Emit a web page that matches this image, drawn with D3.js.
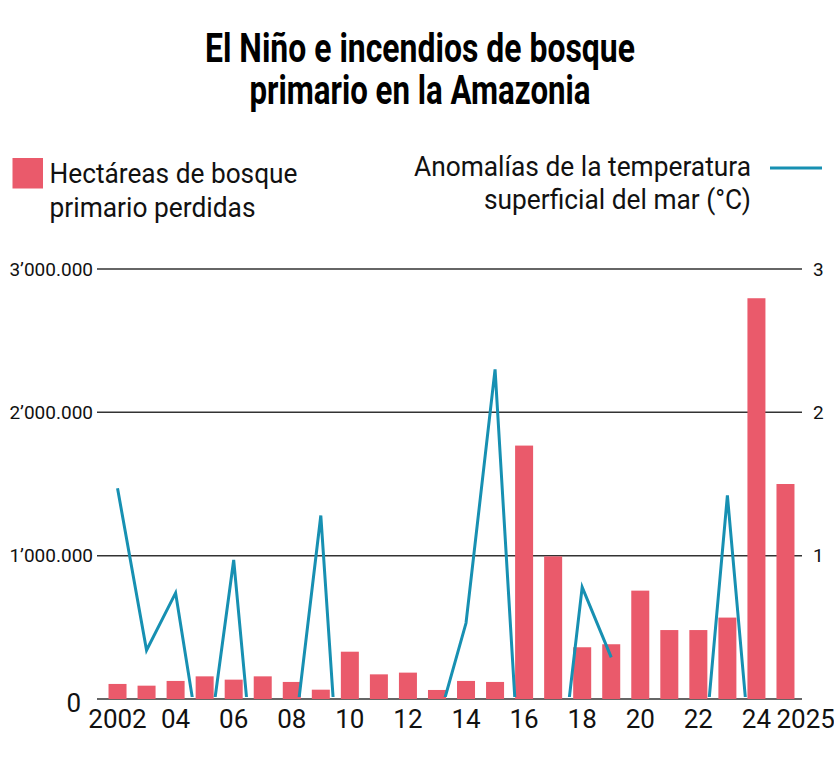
<!DOCTYPE html>
<html>
<head>
<meta charset="utf-8">
<script src="https://cdn.jsdelivr.net/npm/d3@7"></script>
<style>
  html, body { margin: 0; padding: 0; background: #fff; }
  svg { display: block; font-family: Roboto, "Noto Sans", sans-serif; }
</style>
</head>
<body>
<svg id="chart" width="834" height="760"></svg>
<script>
// ---- data ----
const years = [2002,2003,2004,2005,2006,2007,2008,2009,2010,2011,2012,2013,
               2014,2015,2016,2017,2018,2019,2020,2021,2022,2023,2024,2025];
const hectares = [105000, 93000, 126000, 158000, 135000, 158000, 119000, 65000,
                  330000, 172000, 184000, 63000, 126000, 119000, 1768000, 995000,
                  361000, 382000, 756000, 481000, 481000, 568000, 2796000, 1500000];
const sstAnomaly = [1.47, 0.34, 0.74, -0.53, 0.97, -1.2, -0.42, 1.28,
                    -1.72, -1.2, -0.6, -0.19, 0.53, 2.30, -1.07, -0.96,
                    0.78, 0.29, null, null, -0.84, 1.42, -0.86, null];
const leftTicks = [1000000, 2000000, 3000000];
const leftTickLabels = ["1’000.000", "2’000.000", "3’000.000"];
const rightTicks = [1, 2, 3];
const xTickYears = [2002,2004,2006,2008,2010,2012,2014,2016,2018,2020,2022,2024,2025];
const xTickLabels = ["2002","04","06","08","10","12","14","16","18","20","22","24","2025"];
const titleLines = ["El Niño e incendios de bosque", "primario en la Amazonia"];
const legendBars = ["Hectáreas de bosque", "primario perdidas"];
const legendLine = ["Anomalías de la temperatura", "superficial del mar (°C)"];

// ---- layout ----
const barColor = "#EA5A6B";
const lineColor = "#1790B2";
const gridColor = "#333333";
const plotLeft = 97, plotRight = 802, plotTop = 269, plotBottom = 699;

const svg = d3.select("#chart");

const x = d3.scaleBand().domain(years).range([103, 800])
  .paddingInner(0.38).paddingOuter(0.19);
const yL = d3.scaleLinear().domain([0, 3000000]).range([plotBottom, plotTop]);
const yR = d3.scaleLinear().domain([0, 3]).range([plotBottom, plotTop]);

// title
const title = svg.append("g");
titleLines.forEach((t, i) => {
  title.append("text")
    .attr("x", 420).attr("y", 62 + i * 42)
    .attr("text-anchor", "middle")
    .attr("font-size", 40).attr("font-weight", 700)
    .attr("fill", "#000")
    .attr("textLength", i === 0 ? 430 : 341)
    .attr("lengthAdjust", "spacingAndGlyphs")
    .text(t);
});

// legend
svg.append("rect").attr("x", 12.5).attr("y", 158).attr("width", 30.5).attr("height", 30.5)
  .attr("fill", barColor);
const lbWidths = [248, 206];
legendBars.forEach((t, i) => {
  svg.append("text").attr("x", 49.5).attr("y", 182.5 + i * 34)
    .attr("font-size", 27).attr("fill", "#111")
    .attr("textLength", lbWidths[i]).attr("lengthAdjust", "spacingAndGlyphs")
    .text(t);
});
const llWidths = [337, 267];
legendLine.forEach((t, i) => {
  svg.append("text").attr("x", 751).attr("y", 176 + i * 33)
    .attr("text-anchor", "end")
    .attr("font-size", 27).attr("fill", "#111")
    .attr("textLength", llWidths[i]).attr("lengthAdjust", "spacingAndGlyphs")
    .text(t);
});
svg.append("line").attr("x1", 770).attr("x2", 822).attr("y1", 168).attr("y2", 168)
  .attr("stroke", lineColor).attr("stroke-width", 3);

// gridlines
const grid = svg.append("g");
[0].concat(leftTicks).forEach(v => {
  grid.append("line")
    .attr("x1", plotLeft).attr("x2", plotRight)
    .attr("y1", yL(v)).attr("y2", yL(v))
    .attr("stroke", gridColor).attr("stroke-width", 1.5);
});

// left axis labels
leftTicks.forEach((v, i) => {
  svg.append("text").attr("x", 93).attr("y", yL(v)).attr("dy", "0.35em")
    .attr("text-anchor", "end").attr("font-size", 19).attr("fill", "#111")
    .text(leftTickLabels[i]);
});
svg.append("text").attr("x", 81).attr("y", 712)
  .attr("text-anchor", "end").attr("font-size", 26).attr("fill", "#111").text("0");

// right axis labels
rightTicks.forEach(v => {
  svg.append("text").attr("x", 813).attr("y", yR(v)).attr("dy", "0.35em")
    .attr("font-size", 19).attr("fill", "#111").text(d3.format("d")(v));
});

// bars
svg.append("g").selectAll("rect").data(years).join("rect")
  .attr("x", d => x(d))
  .attr("width", x.bandwidth())
  .attr("y", (d, i) => yL(hectares[i]))
  .attr("height", (d, i) => yL(0) - yL(hectares[i]))
  .attr("fill", barColor);

// line (clipped at zero)
svg.append("clipPath").attr("id", "clip").append("rect")
  .attr("x", plotLeft).attr("y", 0).attr("width", plotRight - plotLeft).attr("height", 697);
const lineGen = d3.line()
  .defined((d, i) => sstAnomaly[i] !== null)
  .x(d => x(d) + x.bandwidth() / 2)
  .y((d, i) => yR(sstAnomaly[i]));
svg.append("path").datum(years)
  .attr("clip-path", "url(#clip)")
  .attr("d", lineGen)
  .attr("fill", "none").attr("stroke", lineColor).attr("stroke-width", 3)
  .attr("stroke-linejoin", "miter");

// x labels
xTickYears.forEach((yr, i) => {
  const last = i === xTickYears.length - 1;
  svg.append("text")
    .attr("x", last ? x(yr) : x(yr) + x.bandwidth() / 2)
    .attr("y", 728)
    .attr("text-anchor", last ? "start" : "middle")
    .attr("font-size", 26).attr("fill", "#111")
    .text(xTickLabels[i]);
});
</script>
</body>
</html>
